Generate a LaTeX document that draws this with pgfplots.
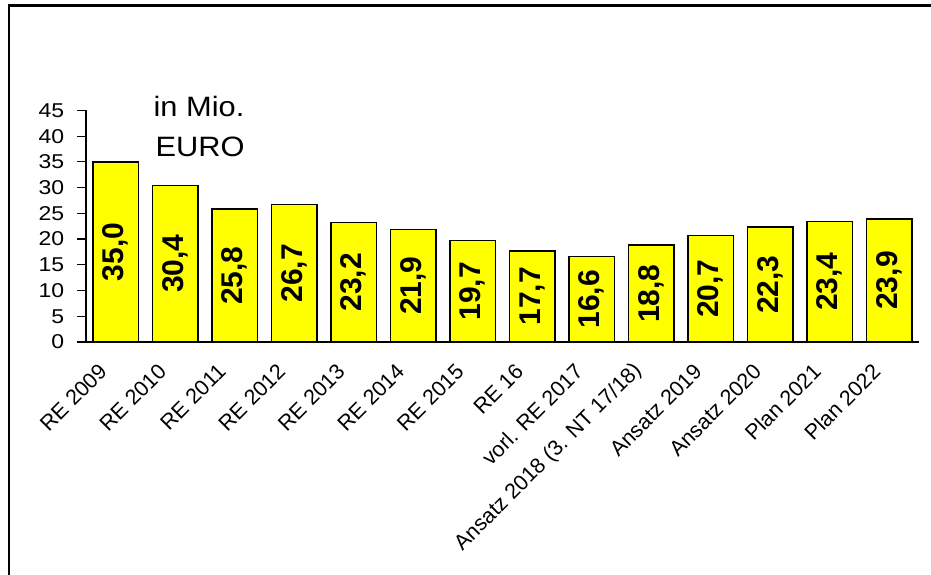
\documentclass[border=0pt]{standalone}
\usepackage{fontspec}
\setmainfont{Liberation Sans}
\usepackage{pgfplots}
\pgfplotsset{compat=1.18}
\definecolor{baryellow}{HTML}{FFFF00}

\begin{document}
\begin{tikzpicture}
\path[use as bounding box] (0pt,0pt) rectangle (931pt,575pt);
\draw[line width=2.5pt] (9pt,-10pt) -- (9pt,569.5pt) -- (945pt,569.5pt);
\begin{axis}[
  at={(86pt,233pt)}, anchor=south west,
  scale only axis, width=833pt, height=231.6pt,
  ymin=0, ymax=45, xmin=-0.5, xmax=13.5,
  axis x line=bottom, axis y line=left,
  axis line style={-, line width=1.5pt},
  ytick={0,5,...,45},
  xtick={0,...,13},
  xticklabels={RE 2009, RE 2010, RE 2011, RE 2012, RE 2013, RE 2014, RE 2015, RE 16, vorl. RE 2017, Ansatz 2018 (3. NT 17/18), Ansatz 2019, Ansatz 2020, Plan 2021, Plan 2022},
  minor xtick={-0.5,0.5,...,13.5},
  tick align=outside,
  major tick length=9pt, minor tick length=6pt,
  xtick style={draw=none},
  ytick style={line width=1.2pt, black},
  minor tick style={line width=1.2pt, black},
  /pgf/number format/assume math mode=true,
  yticklabel style={font=\fontsize{20}{24}\selectfont, xscale=1.15, inner sep=2pt, xshift=-9pt},
  xticklabel style={font=\fontsize{21.5}{24}\selectfont, xshift=-12pt, yshift=-16pt, rotate=45, anchor=east, inner sep=1pt},
  ybar, bar width=45.3pt,
  nodes near coords,
  visualization depends on={y \as \rawy},
  nodes near coords style={
    /pgf/number format/.cd, fixed, fixed zerofill, precision=1, use comma, assume math mode=true,
    /tikz/.cd, yshift={-\rawy*2.5733pt}, rotate=90, anchor=center, font=\fontsize{30}{32}\selectfont\bfseries},
  clip=false,
]
\addplot[draw=black, fill=baryellow, line width=1.5pt] coordinates {
  (0,35.0) (1,30.4) (2,25.8) (3,26.7) (4,23.2) (5,21.9) (6,19.7)
  (7,17.7) (8,16.6) (9,18.8) (10,20.7) (11,22.3) (12,23.4) (13,23.9)};
\end{axis}
\node[anchor=base, font=\fontsize{28}{32}\selectfont, xscale=1.1] at (199pt,458pt) {in Mio.};
\node[anchor=base, font=\fontsize{28}{32}\selectfont, xscale=1.1] at (200pt,418pt) {EURO};
\end{tikzpicture}
\end{document}
